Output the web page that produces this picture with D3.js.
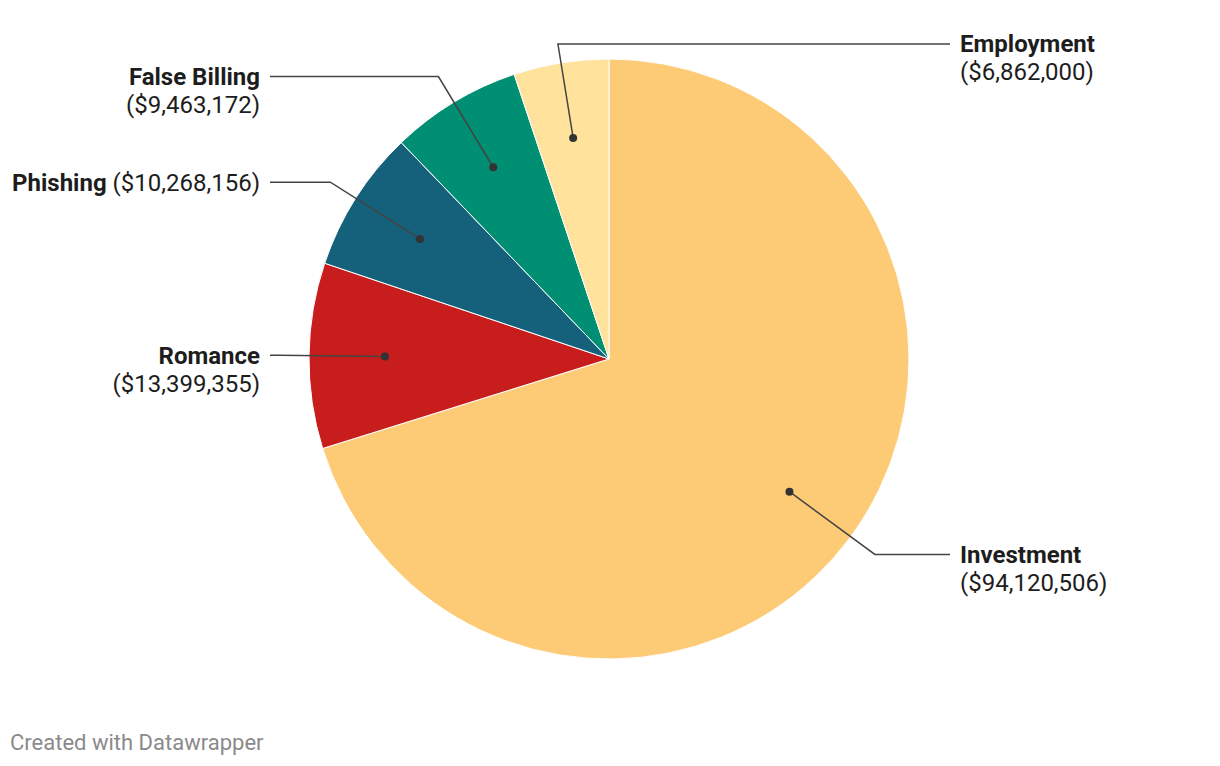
<!DOCTYPE html>
<head>
  <meta charset="utf-8">
  <script src="https://d3js.org/d3.v7.min.js"></script>
  <style>
    body { margin: 0; background: #fff; font-family: Roboto, "Noto Sans", sans-serif; }
    .credit { fill: #8a8a8a; font-size: 22px; }
    .lbl { fill: #1d1d1d; font-size: 24px; }
    .lbl .name { font-weight: bold; }
  </style>
</head>
<body>
  <div class="chart"></div>
  <script>
    var categories = ["Investment", "Romance", "Phishing", "False Billing", "Employment"];
    var values = [94120506, 13399355, 10268156, 9463172, 6862000];
    var colors = ["#fdca76", "#c71e1d", "#15607a", "#008f72", "#ffe29c"];

    (function() {
      var width = 1220, height = 766;
      var cx = 609, cy = 359, radius = 300;
      var dotR = 224, elbowR = 330;
      var maxLabelWidth = 250, topLimit = 44;

      var svg = d3.select(".chart").append("svg")
        .attr("width", width)
        .attr("height", height);

      var data = categories.map(function(c, i) {
        return { name: c, value: values[i], color: colors[i] };
      });

      var pie = d3.pie().sort(null).value(function(d) { return d.value; });
      var arcs = pie(data);
      var arc = d3.arc().innerRadius(0).outerRadius(radius);

      var g = svg.append("g").attr("transform", "translate(" + cx + "," + cy + ")");

      g.selectAll(".slice")
        .data(arcs)
        .enter().append("path")
        .attr("class", "slice")
        .attr("d", arc)
        .attr("fill", function(d) { return d.data.color; })
        .attr("stroke", "#fff")
        .attr("stroke-width", 1);

      var fmt = d3.format(",");

      arcs.forEach(function(d) {
        var a = (d.startAngle + d.endAngle) / 2;
        var s = Math.sin(a), c = Math.cos(a);
        var dx = dotR * s, dy = -dotR * c;
        var ey = -elbowR * c;
        var clamped = ey < topLimit - cy;
        if (clamped) ey = topLimit - cy;
        var t = -ey / c;
        var ex = t * s;
        // labels pushed against the top go to the free right side
        var right = s > 0 || clamped;
        var hx = right ? 950 - cx : 270 - cx;

        g.append("path")
          .attr("d", "M" + dx + "," + dy + "L" + ex + "," + ey + "L" + hx + "," + ey)
          .attr("fill", "none")
          .attr("stroke", "#444")
          .attr("stroke-width", 1.5);

        g.append("circle")
          .attr("cx", dx).attr("cy", dy).attr("r", 4)
          .attr("fill", "#333");

        var tx = right ? hx + 10 : hx - 10;
        var valText = "($" + fmt(d.data.value) + ")";
        var text = g.append("text")
          .attr("class", "lbl")
          .attr("x", tx)
          .attr("y", ey)
          .attr("dy", "0.35em")
          .attr("text-anchor", right ? "start" : "end");
        text.append("tspan").attr("class", "name").text(d.data.name);
        var vs = text.append("tspan").text(" " + valText);
        if (text.node().getComputedTextLength() > maxLabelWidth) {
          vs.text(valText).attr("x", tx).attr("dy", 28);
        }
      });

      svg.append("text")
        .attr("class", "credit")
        .attr("x", 10)
        .attr("y", 750)
        .text("Created with Datawrapper");
    })();
  </script>
</body>
